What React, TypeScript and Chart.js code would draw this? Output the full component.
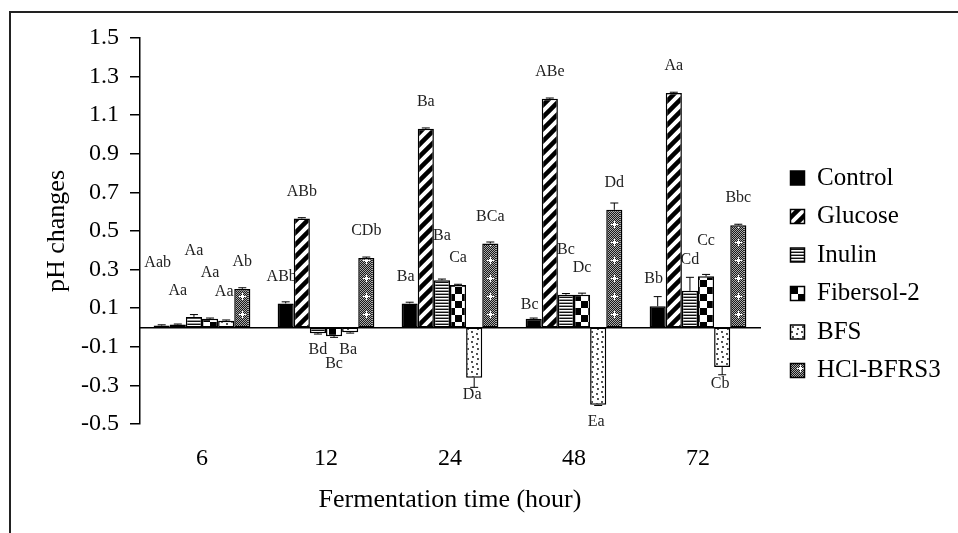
import React, { useEffect, useRef } from "react";
import { Chart, registerables } from "chart.js";

Chart.register(...registerables);

// ---------- data ----------
const CATEGORIES = ["6", "12", "24", "48", "72"];
const SERIES_NAMES = ["Control", "Glucose", "Inulin", "Fibersol-2", "BFS", "HCl-BFRS3"];

const CONTROL = [0.01, 0.125, 0.125, 0.045, 0.11];
const GLUCOSE = [0.015, 0.565, 1.03, 1.185, 1.215];
const INULIN = [0.055, -0.03, 0.245, 0.17, 0.19];
const FIBERSOL = [0.045, -0.045, 0.22, 0.17, 0.265];
const BFS = [0.035, -0.025, -0.26, -0.4, -0.205];
const HCL = [0.2, 0.36, 0.435, 0.61, 0.53];

const CONTROL_ERR = [0.004, 0.008, 0.006, 0.004, 0.05];
const GLUCOSE_ERR = [0.003, 0.004, 0.004, 0.004, 0.004];
const INULIN_ERR = [0.012, 0.004, 0.006, 0.006, 0.07];
const FIBERSOL_ERR = [0.004, 0.006, 0.004, 0.008, 0.01];
const BFS_ERR = [0.004, 0.004, 0.05, 0.004, 0.04];
const HCL_ERR = [0.006, 0.005, 0.008, 0.035, 0.005];

const CONTROL_LETTERS = ["Aab", "ABb", "Ba", "Bc", "Bb"];
const GLUCOSE_LETTERS = ["Aa", "ABb", "Ba", "ABe", "Aa"];
const INULIN_LETTERS = ["Aa", "Bd", "Ba", "Bc", "Cd"];
const FIBERSOL_LETTERS = ["Aa", "Bc", "Ca", "Dc", "Cc"];
const BFS_LETTERS = ["Aa", "Ba", "Da", "Ea", "Cb"];
const HCL_LETTERS = ["Ab", "CDb", "BCa", "Dd", "Bbc"];

const Y_TICKS = [-0.5, -0.3, -0.1, 0.1, 0.3, 0.5, 0.7, 0.9, 1.1, 1.3, 1.5];

// ---------- layout / style (not data) ----------
const SERIF = "'Liberation Serif', 'Times New Roman', serif";
const LABEL_GAP_UP = 27;
const LABEL_GAP_DOWN = 17;
const LABEL_RAISE = [
  [36, 0, 0, -13, 0],
  [7, 0, 0, 0, 0],
  [39, 0, 17, 18, 4],
  [19, 11, 0, 0, 9],
  [2, 0, 0, 0, 0],
  [0, 0, 0, 0, 0],
];
const LABEL_DX = [-4, 0, 0, 0, -2, 0];

function makePattern(w: number, h: number, draw: (g: CanvasRenderingContext2D) => void) {
  const c = document.createElement("canvas");
  c.width = w;
  c.height = h;
  const g = c.getContext("2d")!;
  draw(g);
  return g.createPattern(c, "repeat")!;
}

function buildPatterns() {
  const glucose = makePattern(12, 12, (g) => {
    g.fillStyle = "#fff";
    g.fillRect(0, 0, 12, 12);
    g.strokeStyle = "#000";
    g.lineWidth = 4.5;
    g.beginPath();
    g.moveTo(-2, 2);
    g.lineTo(2, -2);
    g.moveTo(-1, 13);
    g.lineTo(13, -1);
    g.moveTo(10, 14);
    g.lineTo(14, 10);
    g.stroke();
  });
  const inulin = makePattern(4, 3, (g) => {
    g.fillStyle = "#fff";
    g.fillRect(0, 0, 4, 3);
    g.fillStyle = "#111";
    g.fillRect(0, 0, 4, 1);
    g.fillStyle = "#999";
    g.fillRect(0, 2, 4, 1);
  });
  const fibersol = makePattern(14, 14, (g) => {
    g.fillStyle = "#fff";
    g.fillRect(0, 0, 14, 14);
    g.fillStyle = "#000";
    g.fillRect(0, 0, 7, 7);
    g.fillRect(7, 7, 7, 7);
  });
  const bfs = makePattern(10, 10, (g) => {
    g.fillStyle = "#fff";
    g.fillRect(0, 0, 10, 10);
    g.fillStyle = "#000";
    const pts = [
      [2, 2],
      [7, 4],
      [3, 7],
      [8, 9],
    ];
    for (const [x, y] of pts) {
      g.beginPath();
      g.arc(x, y, 0.9, 0, Math.PI * 2);
      g.fill();
    }
  });
  const hcl = makePattern(31, 18, (g) => {
    const img = g.createImageData(31, 18);
    for (let y = 0; y < 18; y++) {
      for (let x = 0; x < 31; x++) {
        const i = (y * 31 + x) * 4;
        const v = (x + y) % 2 === 0 ? 25 : 170;
        img.data[i] = v;
        img.data[i + 1] = v;
        img.data[i + 2] = v;
        img.data[i + 3] = 255;
      }
    }
    g.putImageData(img, 0, 0);
    g.fillStyle = "#fff";
    g.fillRect(24, 7, 3, 3);
    g.fillRect(25, 5, 1, 7);
    g.fillRect(22, 8, 7, 1);
  });
  return ["#000", glucose, inulin, fibersol, bfs, hcl];
}

export default function App() {
  const ref = useRef<HTMLCanvasElement | null>(null);

  useEffect(() => {
    const canvas = ref.current;
    if (!canvas) return;
    const fills = buildPatterns();
    const values = [CONTROL, GLUCOSE, INULIN, FIBERSOL, BFS, HCL];
    const errors = [CONTROL_ERR, GLUCOSE_ERR, INULIN_ERR, FIBERSOL_ERR, BFS_ERR, HCL_ERR];
    const letters = [CONTROL_LETTERS, GLUCOSE_LETTERS, INULIN_LETTERS, FIBERSOL_LETTERS, BFS_LETTERS, HCL_LETTERS];

    const datasets = SERIES_NAMES.map((name, i) => ({
      label: name,
      data: values[i],
      backgroundColor: fills[i] as any,
      borderColor: "#000",
      borderWidth: 1.5,
      borderSkipped: false as any,
      barPercentage: 1,
      categoryPercentage: 0.78,
      xAxisID: "x",
      yAxisID: "y",
    }));

    const lettersPlugin = {
      id: "letters",
      beforeDatasetsDraw(chart: any) {
        const ctx = chart.ctx;
        ctx.save();
        ctx.font = `16px ${SERIF}`;
        ctx.fillStyle = "#222";
        ctx.textAlign = "center";
        ctx.textBaseline = "middle";
        chart.data.datasets.forEach((ds: any, di: number) => {
          const meta = chart.getDatasetMeta(di);
          meta.data.forEach((el: any, i: number) => {
            const v = ds.data[i];
            const raise = LABEL_RAISE[di][i];
            const y = v >= 0 ? el.y - LABEL_GAP_UP - raise : el.y + LABEL_GAP_DOWN + raise;
            ctx.fillText(letters[di][i], el.x + LABEL_DX[di], y);
          });
        });
        ctx.restore();
      },
    };

    const errorPlugin = {
      id: "errorbars",
      afterDatasetsDraw(chart: any) {
        const ctx = chart.ctx;
        const ys = chart.scales.y;
        ctx.save();
        ctx.strokeStyle = "#000";
        ctx.lineWidth = 1;
        chart.data.datasets.forEach((ds: any, di: number) => {
          const meta = chart.getDatasetMeta(di);
          meta.data.forEach((el: any, i: number) => {
            const v = ds.data[i];
            const e = errors[di][i];
            const end = ys.getPixelForValue(v + (v >= 0 ? e : -e));
            ctx.beginPath();
            ctx.moveTo(el.x, el.y);
            ctx.lineTo(el.x, end);
            ctx.moveTo(el.x - 4, end);
            ctx.lineTo(el.x + 4, end);
            ctx.stroke();
          });
        });
        ctx.restore();
      },
    };

    const legendPlacer = {
      id: "legendPlacer",
      afterLayout(chart: any) {
        const lg = chart.legend;
        if (!lg) return;
        const w = lg.width;
        const h = lg.height;
        lg.left = 777;
        lg.top = 152;
        lg.right = lg.left + w;
        lg.bottom = lg.top + h;
      },
    };

    const chart = new Chart(canvas, {
      type: "bar",
      data: { labels: CATEGORIES, datasets: datasets as any },
      options: {
        responsive: false,
        animation: false,
        layout: { padding: { left: 0, right: 198, top: 38, bottom: 0 } },
        plugins: {
          tooltip: { enabled: false },
          legend: {
            position: "chartArea" as any,
            align: "start",
            labels: {
              boxWidth: 14,
              boxHeight: 14,
              padding: 13.5,
              color: "#000",
              font: { family: SERIF, size: 25 },
            },
          },
        },
        scales: {
          x: {
            type: "category",
            position: "bottom",
            grid: { display: false, drawTicks: false },
            border: { display: false },
            ticks: { color: "#000", font: { family: SERIF, size: 24 }, padding: 20 },
            title: {
              display: true,
              text: "Fermentation time (hour)",
              color: "#000",
              font: { family: SERIF, size: 26 },
              padding: { top: 8, bottom: 17 },
            },
            afterFit: (s: any) => {
              s.height = 109;
            },
          },
          x0: {
            type: "category",
            position: { y: 0 } as any,
            grid: { display: false, drawTicks: false },
            ticks: { display: false },
            border: { display: true, color: "#000", width: 1.5 },
          },
          y: {
            type: "linear",
            position: "left",
            min: -0.5,
            max: 1.5,
            afterBuildTicks: (s: any) => {
              s.ticks = Y_TICKS.map((v) => ({ value: v }));
            },
            afterFit: (s: any) => {
              s.width = 140;
            },
            grid: {
              drawOnChartArea: false,
              drawTicks: true,
              tickLength: 10,
              color: "#000",
              tickColor: "#000",
              lineWidth: 1.5,
            },
            border: { display: true, color: "#000", width: 1.5 },
            ticks: {
              color: "#000",
              font: { family: SERIF, size: 24 },
              padding: 11,
              callback: (v: any) => Number(v).toFixed(1),
            },
            title: {
              display: true,
              text: "pH changes",
              color: "#000",
              font: { family: SERIF, size: 26 },
              padding: { top: 42, bottom: 0 },
            },
          },
        },
      },
      plugins: [lettersPlugin, errorPlugin, legendPlacer],
    });

    return () => chart.destroy();
  }, []);

  return (
    <div
      style={{
        position: "fixed",
        left: 0,
        top: 0,
        width: 958,
        height: 533,
        background: "#fff",
        overflow: "hidden",
      }}
    >
      <canvas
        ref={ref}
        width={958}
        height={533}
        style={{ position: "absolute", left: 0, top: 0, width: 958, height: 533 }}
      />
      <div
        style={{
          position: "absolute",
          left: 9,
          top: 11,
          right: -10,
          bottom: -10,
          borderTop: "2px solid #222",
          borderLeft: "2px solid #222",
          pointerEvents: "none",
        }}
      />
    </div>
  );
}
